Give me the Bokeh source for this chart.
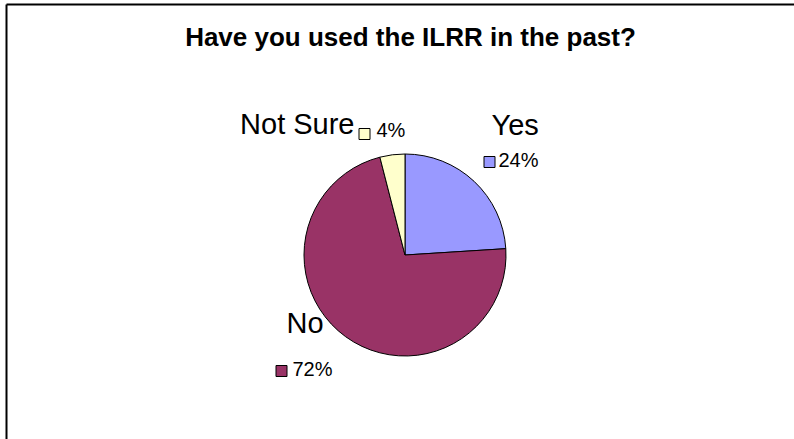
import math
from bokeh.plotting import figure
from bokeh.models import Range1d, ColumnDataSource
from bokeh.core.properties import value
from bokeh.embed import file_html
from bokeh.resources import INLINE

# ---- data ----
categories = ["Yes", "No", "Not Sure"]
percents = [24, 72, 4]
colors = ["#9999FF", "#993366", "#FFFFCC"]
title_text = "Have you used the ILRR in the past?"

# ---- layout (pixel coordinates, y measured from top) ----
W, H = 794, 439
cx, cy, r = 404.5, 254.5, 101
# per category: (name x, name baseline y, name align, box center x, box center y, pct x, pct baseline y)
label_layout = {
    "Yes":      (491, 124, "left",  489, 161.5, 498, 159),
    "No":       (286, 322, "left",  281, 370.5, 292, 368),
    "Not Sure": (354, 123, "right", 364, 133.5, 376, 129),
}
FONT = "Liberation Sans"

def Y(y):
    return H - y

p = figure(width=W, height=H, output_backend="svg", toolbar_location=None,
           x_range=Range1d(0, W), y_range=Range1d(0, H),
           min_border=0, min_border_left=0, min_border_right=0,
           min_border_top=0, min_border_bottom=0)
p.axis.visible = False
p.grid.visible = False
p.outline_line_color = None
p.background_fill_color = "white"
p.border_fill_color = "white"

# chart frame (top and left edges visible)
p.segment(x0=[6, 6], y0=[Y(4), Y(4)], x1=[6, W + 10], y1=[Y(H + 10), Y(4)],
          line_color="black", line_width=2)

# pie wedges, clockwise from 12 o'clock
total = sum(percents)
starts, ends = [], []
cum = 0.0
for v in percents:
    f = v / total
    end = math.radians(90 - cum * 360)
    start = math.radians(90 - (cum + f) * 360)
    starts.append(start)
    ends.append(end)
    cum += f

src = ColumnDataSource(dict(cat=categories, pct=percents, color=colors,
                            start=starts, end=ends))
p.wedge(x=cx, y=Y(cy), radius=r, start_angle="start", end_angle="end",
        fill_color="color", line_color="black", line_width=1, source=src)

# labels
for cat, pct, col in zip(categories, percents, colors):
    nx, ny, nal, bx, by, px_, py_ = label_layout[cat]
    p.text(x=[nx], y=[Y(ny)], text=[cat], text_align=nal,
           text_baseline="alphabetic", text_font=value(FONT),
           text_font_size="29px", text_color="black")
    p.rect(x=[bx], y=[Y(by)], width=11, height=11, fill_color=col,
           line_color="black", line_width=1)
    p.text(x=[px_], y=[Y(py_)], text=[f"{pct}%"], text_align="left",
           text_baseline="alphabetic", text_font=value(FONT),
           text_font_size="20px", text_color="black")

# title
p.text(x=[410], y=[Y(36)], text=[title_text], text_align="center",
       text_baseline="alphabetic", text_font=value(FONT),
       text_font_size="26px", text_font_style="bold", text_color="black")

open("out.html", "w").write(file_html(p, INLINE))
